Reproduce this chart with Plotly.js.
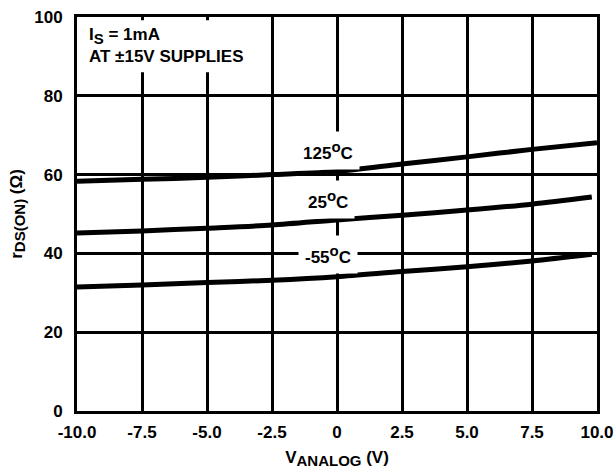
<!DOCTYPE html>
<html>
<head>
<meta charset="utf-8">
<script src="https://cdn.plot.ly/plotly-3.0.1.min.js"></script>
<style>html,body{margin:0;padding:0;background:#fff;}#chart{width:614px;height:470px;}</style>
</head>
<body>
<div id="chart"></div>
<script>
// Data
const xTickVals = [-10, -7.5, -5, -2.5, 0, 2.5, 5, 7.5, 10];
const xTickText = ["-10.0", "-7.5", "-5.0", "-2.5", "0", "2.5", "5.0", "7.5", "10.0"];
const yTickVals = [0, 20, 40, 60, 80, 100];

const x125 = [-10, -7.5, -5, -2.5, 0, 2.5, 5, 7.5, 10];
const r125 = [58.3, 58.8, 59.3, 60.0, 60.8, 62.7, 64.5, 66.4, 68.1];
const x25 = [-10, -7.5, -5, -2.5, 0, 2.5, 5, 7.5, 9.8];
const r25 = [45.2, 45.7, 46.4, 47.2, 48.5, 49.7, 51.0, 52.5, 54.3];
const xm55 = [-10, -7.5, -5, -2.5, 0, 2.5, 5, 7.5, 9.8];
const rm55 = [31.5, 32.0, 32.6, 33.2, 34.1, 35.4, 36.6, 38.1, 39.8];

const seriesLabels = ["125<sup>o</sup>C", "25<sup>o</sup>C", "-55<sup>o</sup>C"];
const labelX = [-0.35, -0.35, -0.35];
const labelY = [66.2, 53.6, 39.6];

const FONT = "Liberation Sans, Arial, Helvetica, sans-serif";
const FS = 17;
const lineStyle = {color: "#000", width: 5, shape: "spline", smoothing: 0.8};
const bold = {family: FONT, size: FS, color: "#000", weight: 700};

const traces = [
  {x: x125, y: r125, mode: "lines", line: lineStyle, hoverinfo: "skip"},
  {x: x25, y: r25, mode: "lines", line: lineStyle, hoverinfo: "skip"},
  {x: xm55, y: rm55, mode: "lines", line: lineStyle, hoverinfo: "skip"}
];

const bigSup = s => "<sup><span style='font-size:15px'>" + s + "</span></sup>";
const bigSub = s => "<sub><span style='font-size:15px'>" + s + "</span></sub>";

const annotations = seriesLabels.map((t, i) => ({
  x: labelX[i], y: labelY[i], xref: "x", yref: "y",
  text: t.replace(/<sup>o<\/sup>/, bigSup("o")), showarrow: false,
  bgcolor: "#fff", borderpad: 6,
  font: bold
}));
annotations.push({
  x: 0.019, y: 0.985, xref: "paper", yref: "paper", xanchor: "left", yanchor: "top",
  align: "left", showarrow: false,
  text: "I" + bigSub("S") + " = 1mA<br>AT \u00b115V SUPPLIES",
  font: bold
});

const layout = {
  width: 614, height: 470,
  margin: {l: 77, r: 17, t: 17, b: 59},
  paper_bgcolor: "#fff", plot_bgcolor: "#fff",
  showlegend: false,
  font: bold,
  xaxis: {
    range: [-10, 10], tickvals: xTickVals, ticktext: xTickText,
    showgrid: true, gridcolor: "#000", gridwidth: 3,
    showline: true, linecolor: "#000", linewidth: 3, mirror: true,
    zeroline: false, ticks: "", ticklabelstandoff: 4,
    tickfont: bold,
    title: {text: "V" + bigSub("ANALOG") + " (V)", standoff: 10, font: bold},
    fixedrange: true
  },
  yaxis: {
    range: [0, 100], tickvals: yTickVals,
    showgrid: true, gridcolor: "#000", gridwidth: 3,
    showline: true, linecolor: "#000", linewidth: 3, mirror: true,
    zeroline: false, ticks: "", ticklabelstandoff: 8,
    tickfont: bold,
    title: {text: "r" + bigSub("DS(ON)") + " (\u03a9)", standoff: 8, font: bold},
    fixedrange: true
  },
  shapes: [{
    type: "rect", xref: "x", yref: "y", layer: "above",
    x0: -9.9, x1: -2.7, y0: 86.0, y1: 99.2,
    fillcolor: "#fff", line: {width: 0}
  }],
  annotations: annotations
};

Plotly.newPlot("chart", traces, layout, {displayModeBar: false, staticPlot: true});
</script>
</body>
</html>
